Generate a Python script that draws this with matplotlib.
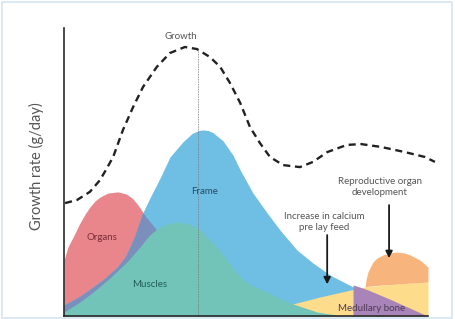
import matplotlib.pyplot as plt
from matplotlib.patches import Rectangle

# x: stage of rearing (0-100), y: relative growth rate (0-100)
growth_x = [0.3, 3.6, 7.1, 9.9, 11.5, 13.5, 16.2, 19.0, 21.7, 25.5, 29.1, 33.2, 36.5,
            40.1, 42.9, 45.6, 48.4, 51.1, 53.8, 56.6, 60.2, 64.8, 68.4, 72.3, 77.7,
            81.6, 87.1, 93.7, 99.2, 101.9]
growth_y = [39.2, 40.3, 43.1, 47.2, 50.7, 55.2, 64.6, 72.6, 79.5, 86.5, 91.3, 93.4, 92.7,
            89.9, 86.5, 80.9, 74.0, 65.6, 60.1, 55.2, 52.4, 51.7, 53.5, 56.9, 59.4,
            59.7, 58.7, 56.9, 55.2, 53.5]
growth_peak_x = 36.8
growth_peak_y = 92.7

organs_x = [0, 1.1, 2.5, 4.4, 5.8, 7.1, 8.5, 9.9, 12.1, 14.8, 17.0, 18.7, 20.1, 20.9,
            22.0, 22.8, 24.2, 25.5, 27.7, 30.5, 33.2, 34.6]
organs_y = [19.4, 24.0, 27.4, 32.3, 35.4, 37.8, 39.9, 41.3, 42.7, 43.1, 42.4, 41.0, 38.9,
            37.5, 35.4, 34.0, 31.9, 29.9, 24.7, 16.7, 5.6, 0]

frame_x = [0, 4.4, 8.0, 11.3, 14.6, 16.8, 18.1, 19.5, 21.4, 23.6, 26.4, 29.1, 31.0,
           32.7, 35.2, 37.0, 38.2, 39.6, 40.9, 43.7, 46.4, 48.4, 51.9, 55.8, 59.3,
           64.0, 68.4, 73.1, 79.4, 84.1, 90.9, 95.1]
frame_y = [3.8, 6.9, 10.1, 13.2, 17.0, 20.5, 24.0, 28.1, 35.1, 41.0, 47.9, 55.2, 58.0,
           60.5, 63.4, 64.4, 64.6, 64.4, 63.7, 60.8, 55.9, 50.7, 42.7, 35.8, 29.9,
           22.9, 18.4, 14.2, 10.1, 6.9, 2.1, 0]

muscles_x = [0, 4.4, 8.0, 12.6, 17.3, 20.9, 22.8, 24.5, 26.4, 29.1, 31.9, 34.6, 37.4,
             40.9, 43.0, 44.8, 46.4, 48.0, 49.6, 51.1, 53.5, 55.8, 60.2, 62.9, 69.5,
             75.0, 78.6]
muscles_y = [1.4, 4.9, 8.3, 13.2, 18.8, 24.0, 27.1, 29.2, 30.9, 32.3, 32.6, 31.9, 29.9,
             25.3, 22.3, 19.4, 16.6, 14.1, 12.3, 11.0, 9.6, 8.3, 5.6, 4.2, 1.4,
             0.3, 0]

calcium_x = [61.0, 62.9, 70.3, 79.4, 82.7, 90.9, 100]
calcium_y = [0, 4.2, 6.6, 9.2, 10.1, 11.1, 11.8]

medullary_x = [79.4, 83.0, 86.8, 90.0, 93.1, 96.0, 98.6, 100]
medullary_y = [10.8, 9.3, 7.3, 5.6, 3.8, 2.2, 0.7, 0]

repro_x = [82.7, 83.0, 83.5, 84.9, 86.0, 87.6, 89.5, 91.5, 93.5, 95.1, 97.8, 100]
repro_top = [10.1, 12.8, 15.3, 18.8, 20.1, 21.2, 21.9, 22.2, 21.9, 21.2, 19.4, 17.0]
repro_base = [10.1, 10.2, 10.3, 10.5, 10.6, 10.8, 10.9, 11.1, 11.3, 11.4, 11.6, 11.8]

calcium_arrow = (72.3, 28.1, 11.0)
repro_arrow = (89.3, 38.5, 20.1)

c_organs = '#e8868c'
c_frame = '#6fbfe4'
c_overlap = '#7a8fbb'
c_muscles = '#72c4b8'
c_calcium = '#fddc8c'
c_medullary = '#a984b8'
c_repro = '#f7b57d'

plt.rcParams['font.family'] = ['Lato', 'DejaVu Sans']

fig = plt.figure(figsize=(4.56, 3.19), dpi=100)
ax = fig.add_axes([0, 0, 1, 1])
ax.set_xlim(-17.58, 107.69)
ax.set_ylim(-1.04, 109.72)

organs = ax.fill_between(organs_x, 0, organs_y, color=c_organs, lw=0, zorder=1)
ax.fill_between(frame_x, 0, frame_y, color=c_frame, lw=0, zorder=2)
# frame seen through organs: same frame shape, clipped to the organs area
overlap = ax.fill_between(frame_x, 0, frame_y, color=c_overlap, lw=0, zorder=3)
overlap.set_clip_path(organs.get_paths()[0], ax.transData)
ax.fill_between(calcium_x, 0, calcium_y, color=c_calcium, lw=0, zorder=4)
ax.fill_between(muscles_x, 0, muscles_y, color=c_muscles, lw=0, zorder=5)
ax.fill_between(medullary_x, 0, medullary_y, color=c_medullary, lw=0, zorder=5)
ax.fill_between(repro_x, repro_base, repro_top, color=c_repro, lw=0, zorder=5)

ax.plot(growth_x, growth_y, color='#222222', lw=1.7, ls=(0, (3, 2)), zorder=6,
        clip_on=False)
ax.plot([growth_peak_x, growth_peak_x], [0, growth_peak_y], color='#777777',
        lw=0.6, ls=(0, (1, 1)), zorder=6)

for ax_x, y0, y1 in [calcium_arrow, repro_arrow]:
    ax.annotate('', xy=(ax_x, y1), xytext=(ax_x, y0), zorder=7,
                arrowprops=dict(arrowstyle='-|>', color='#1a1a1a', lw=1.3,
                                mutation_scale=10, shrinkA=0, shrinkB=0))

txt = '#555555'
ax.text(32.1, 96.9, 'Growth', ha='center', va='center', fontsize=7, color=txt, zorder=8)
ax.text(38.7, 43.4, 'Frame', ha='center', va='center', fontsize=7, color='#244a66', zorder=8)
ax.text(10.4, 27.1, 'Organs', ha='center', va='center', fontsize=7, color='#7a2d38', zorder=8)
ax.text(23.6, 10.8, 'Muscles', ha='center', va='center', fontsize=7, color='#215c56', zorder=8)
ax.text(71.4, 32.6, 'Increase in calcium\npre lay feed', ha='center', va='center',
        fontsize=7, color=txt, linespacing=1.2, zorder=8)
ax.text(86.8, 44.8, 'Reproductive organ\ndevelopment', ha='center', va='center',
        fontsize=7, color=txt, linespacing=1.2, zorder=8)
ax.text(84.6, 2.6, 'Medullary bone', ha='center', va='center', fontsize=7,
        color='#4d3a55', zorder=8)
ax.text(-7.6, 52, 'Growth rate (g/day)', rotation=90, ha='center', va='center',
        fontsize=10.5, color=txt)

for side in ['top', 'right']:
    ax.spines[side].set_visible(False)
ax.spines['left'].set_position(('data', 0))
ax.spines['bottom'].set_position(('data', 0))
ax.spines['left'].set_bounds(0, 100)
ax.spines['bottom'].set_bounds(0, 100)
for side in ['left', 'bottom']:
    ax.spines[side].set_color('#2a2a2a')
    ax.spines[side].set_linewidth(1.2)
    ax.spines[side].set_zorder(9)
ax.set_xticks([])
ax.set_yticks([])
ax.patch.set_alpha(0)

fig.patches.append(Rectangle((2 / 456, 1 / 319), 450 / 456, 316 / 319,
                             transform=fig.transFigure, fill=False,
                             edgecolor='#d3e5f1', lw=1.2))

fig.savefig('out.png', dpi=100)
